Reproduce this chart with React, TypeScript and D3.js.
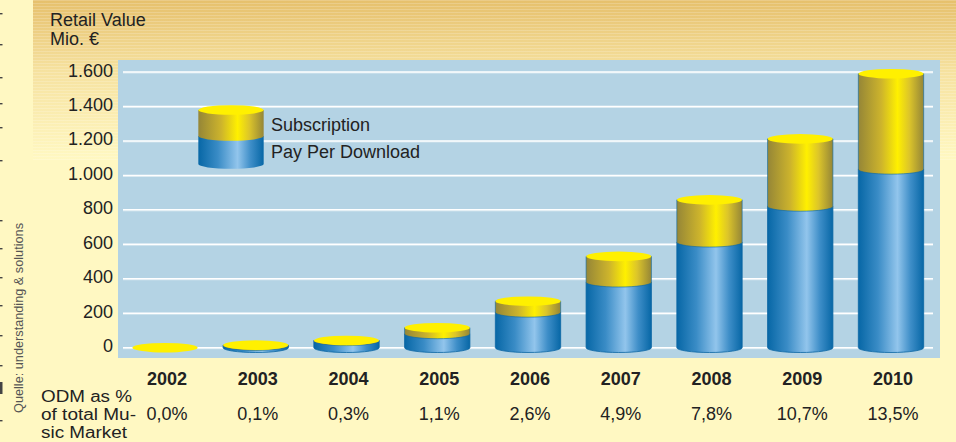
import React from "react";
import * as d3 from "d3";

const years = ["2002", "2003", "2004", "2005", "2006", "2007", "2008", "2009", "2010"];
const payPerDownload = [0, 12, 40, 80, 205, 380, 612, 820, 1035];
const subscription = [0, 3, 2, 36, 65, 150, 246, 392, 555];
const odmShare = ["0,0%", "0,1%", "0,3%", "1,1%", "2,6%", "4,9%", "7,8%", "10,7%", "13,5%"];
const yTicks = [0, 200, 400, 600, 800, 1000, 1200, 1400, 1600];
const rowLabel = ["ODM as %", "of total Mu-", "sic Market"];
const leftMarks = [13, 44, 77, 103, 127, 160, 220, 248, 277, 305, 335, 365, 420];

const W = 956;
const H = 442;
const plot = { left: 118, right: 940, top: 60, bottom: 358 };
const FONT = "'Liberation Sans', Arial, Helvetica, sans-serif";
const FS = 18;

export default function App() {
  const x = d3.scaleBand<string>().domain(years).range([118, 938]).paddingInner(0.28).paddingOuter(0.158);
  const y = d3.scaleLinear().domain([0, 1600]).range([347.7, 72]);
  const bw = x.bandwidth();
  const rx = bw / 2;
  const ry = 4.8;
  const fmt = (v: number) => d3.format(",")(v).replace(/,/g, ".");

  const cyl = (cx: number, yTop: number, yBot: number) => {
    const l = cx - rx;
    const r = cx + rx;
    return `M${l},${yTop} L${l},${yBot} A${rx},${ry} 0 0 0 ${r},${yBot} L${r},${yTop} Z`;
  };

  const legendCx = 231;
  const legendTop = 110;
  const legendMid = 136;
  const legendBot = 164;
  const rowWidths = [91, 95, 86];

  return (
    <svg width={W} height={H} style={{ position: "absolute", left: 0, top: 0 }} xmlns="http://www.w3.org/2000/svg">
      <defs>
        <linearGradient id="bgTop" x1="0" y1="0" x2="0" y2="1">
          <stop offset="0" stopColor="#e6c06c" />
          <stop offset="0.45" stopColor="#f6e2a0" />
          <stop offset="1" stopColor="#fff8c2" />
        </linearGradient>
        <pattern id="stripes" width="4" height="3" patternUnits="userSpaceOnUse">
          <rect width="4" height="1" fill="#ffffff" opacity="0.18" />
        </pattern>
        <linearGradient id="blueG" x1="0" y1="0" x2="1" y2="0">
          <stop offset="0" stopColor="#0767a6" />
          <stop offset="0.3" stopColor="#3a8cc6" />
          <stop offset="0.6" stopColor="#92c5ec" />
          <stop offset="0.8" stopColor="#3e8ec8" />
          <stop offset="1" stopColor="#0767a6" />
        </linearGradient>
        <linearGradient id="yellowG" x1="0" y1="0" x2="1" y2="0">
          <stop offset="0" stopColor="#958637" />
          <stop offset="0.35" stopColor="#cdb42c" />
          <stop offset="0.6" stopColor="#fff000" />
          <stop offset="0.78" stopColor="#dcc52a" />
          <stop offset="1" stopColor="#958637" />
        </linearGradient>
      </defs>

      {/* backgrounds */}
      <rect x={0} y={0} width={W} height={H} fill="#fff8c2" />
      <rect x={33} y={0} width={W - 33} height={160} fill="url(#bgTop)" />
      <rect x={33} y={0} width={W - 33} height={160} fill="url(#stripes)" />
      <rect x={0} y={0} width={33} height={H} fill="#fff8c2" />

      {/* cropped glyph fragments at left edge */}
      {leftMarks.map((m, i) => (
        <rect key={i} x={0} y={m} width={2.5} height={1.4} fill="#444" />
      ))}
      <rect x={0} y={382} width={2.5} height={12} fill="#444" />

      {/* source */}
      <text
        transform="translate(23,413) rotate(-90)"
        fontFamily={FONT}
        fontSize={13}
        fill="#555"
        textLength={190}
        lengthAdjust="spacingAndGlyphs"
      >
        Quelle: understanding &amp; solutions
      </text>

      {/* title */}
      <text x={50} y={26} fontFamily={FONT} fontSize={FS} fill="#222">Retail Value</text>
      <text x={50} y={45} fontFamily={FONT} fontSize={FS} fill="#222">Mio. €</text>

      {/* plot */}
      <rect x={plot.left} y={plot.top} width={plot.right - plot.left} height={plot.bottom - plot.top} fill="#b4d3e4" />
      {yTicks.map((t) => (
        <g key={t}>
          <line x1={123} x2={933} y1={y(t) + 1} y2={y(t) + 1} stroke="#d6e7ef" strokeWidth={1} />
          <line x1={123} x2={933} y1={y(t)} y2={y(t)} stroke="#ffffff" strokeWidth={1.5} />
          <text x={113} y={y(t) + 4.5} textAnchor="end" fontFamily={FONT} fontSize={FS} fill="#222">
            {fmt(t)}
          </text>
        </g>
      ))}

      {/* bars */}
      {years.map((yr, i) => {
        const cx = (x(yr) as number) + rx;
        const y0 = y(0);
        const y1 = y(payPerDownload[i]);
        const y2 = y(payPerDownload[i] + subscription[i]);
        return (
          <g key={yr}>
            {y0 - y1 > 0 && (
              <path d={cyl(cx, y1, y0)} fill="url(#blueG)" stroke="#0a66a3" strokeWidth={0.8} />
            )}
            {y1 - y2 > 0 && (
              <path d={cyl(cx, y2, y1)} fill="url(#yellowG)" stroke="#0a66a3" strokeWidth={0.6} />
            )}
            <ellipse cx={cx} cy={y2} rx={rx} ry={ry} fill="#fff000" />
          </g>
        );
      })}

      {/* legend */}
      <path d={cyl(legendCx, legendMid, legendBot)} fill="url(#blueG)" />
      <path d={cyl(legendCx, legendTop, legendMid)} fill="url(#yellowG)" />
      <ellipse cx={legendCx} cy={legendTop} rx={rx} ry={ry} fill="#fff000" />
      <text x={271} y={131} fontFamily={FONT} fontSize={FS} fill="#222">Subscription</text>
      <text x={271} y={158} fontFamily={FONT} fontSize={FS} fill="#222">Pay Per Download</text>

      {/* table */}
      {years.map((yr, i) => {
        const cx = (x(yr) as number) + rx + 2;
        return (
          <g key={yr}>
            <text x={cx} y={385} textAnchor="middle" fontFamily={FONT} fontSize={FS} fontWeight="bold" fill="#222">
              {yr}
            </text>
            <text x={cx} y={420} textAnchor="middle" fontFamily={FONT} fontSize={FS} fill="#222">
              {odmShare[i]}
            </text>
          </g>
        );
      })}
      {rowLabel.map((s, i) => (
        <text
          key={s}
          x={41}
          y={401.5 + i * 18}
          fontFamily={FONT}
          fontSize={16}
          fill="#222"
          textLength={rowWidths[i]}
          lengthAdjust="spacingAndGlyphs"
        >
          {s}
        </text>
      ))}
    </svg>
  );
}
